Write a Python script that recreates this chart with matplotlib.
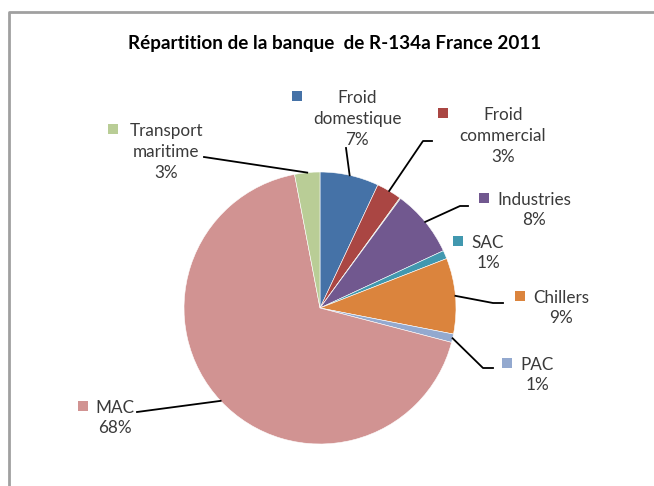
import numpy as np
import matplotlib.pyplot as plt
from matplotlib.patches import Rectangle
from matplotlib.textpath import TextPath
from matplotlib.font_manager import FontProperties

# banque R-134a France 2011, parts en %
categories = ['Froid\ndomestique', 'Froid\ncommercial', '', 'Industries', 'SAC',
              'Chillers', 'PAC', 'MAC', 'Transport\nmaritime']
values = [7, 3, 0.1, 8, 1, 9, 1, 68, 3]
colors = ['#4572A7', '#AA4643', '#89A54E', '#71588F', '#4198AF',
          '#DB843D', '#93A9CF', '#D19392', '#B9CD96']

W, H = 654, 486
cx, cy, r = 320, 308, 136
LABEL_SIZE = 12.3

# label layout (pixel coords, y from top): text centre, leader elbow and end
label_pos = {
    'Froid\ndomestique': dict(xy=(357, 119), elbow=None, end=(346, 148), sq=297),
    'Froid\ncommercial': dict(xy=(503, 136), elbow=(423, 141), end=(432, 141), sq=443),
    'Industries': dict(xy=(534, 210), elbow=(460, 206), end=(468, 206), sq=None),
    'SAC': dict(xy=(488, 253), elbow=None, end=None, sq=None),
    'Chillers': dict(xy=(561, 308), elbow=(493, 303), end=(503, 303), sq=None),
    'PAC': dict(xy=(537, 375), elbow=(483, 368), end=(493, 368), sq=None),
    'MAC': dict(xy=(115, 418), elbow=None, end=(137, 412), sq=None),
    'Transport\nmaritime': dict(xy=(166, 152), elbow=None, end=(204, 157), sq=113),
}

fig = plt.figure(figsize=(W / 100, H / 100), dpi=100)
ax = fig.add_axes([0, 0, 1, 1])


def py(y):
    return H - y


ax.pie(values, colors=colors, startangle=90, counterclock=False,
       center=(cx, py(cy)), radius=r, frame=True,
       wedgeprops=dict(edgecolor='white', linewidth=0.4))
ax.set_xlim(0, W)
ax.set_ylim(0, H)
ax.axis('off')

# chart frame
ax.plot([9, 9, W], [0, py(12), py(12)], color='#A0A0A0', lw=2, solid_capstyle='butt')

ax.text(335, py(44), 'Répartition de la banque  de R-134a France 2011',
        ha='center', va='center', fontsize=13.6, fontweight='bold',
        family='Lato', color='black')

total = sum(values)
cum = 0
txt_color = '#3A3A3A'
fp = FontProperties(family='Lato')
for cat, val, col in zip(categories, values, colors):
    mid = cum + val / 2
    cum += val
    if not cat:
        continue
    theta = np.deg2rad(90 - 360 * mid / total)
    edge = (cx + r * np.cos(theta), cy - r * np.sin(theta))
    lp = label_pos[cat]
    pct = '%d%%' % round(100 * val / total)
    tx, ty = lp['xy']
    ax.text(tx, py(ty), cat + '\n' + pct, ha='center', va='center',
            fontsize=LABEL_SIZE, family='Lato', color=txt_color, linespacing=1.38)

    # legend key square before the first line of the label
    lines = cat.split('\n')
    n = len(lines) + 1
    first_y = ty - (n - 1) / 2 * 23.3
    tw = TextPath((0, 0), lines[0], size=LABEL_SIZE * 100 / 72,
                  prop=fp).get_extents().width
    sq_x = lp['sq'] if lp['sq'] is not None else tx - tw / 2 - 14
    ax.add_patch(Rectangle((sq_x - 5, py(first_y) - 5), 10, 10, color=col, lw=0))

    if lp['end'] is not None:
        pts = [edge]
        if lp['elbow'] is not None:
            pts.append(lp['elbow'])
        pts.append(lp['end'])
        ax.plot([p[0] for p in pts], [py(p[1]) for p in pts],
                color='black', lw=1.3)

plt.savefig('out.png', dpi=100)
